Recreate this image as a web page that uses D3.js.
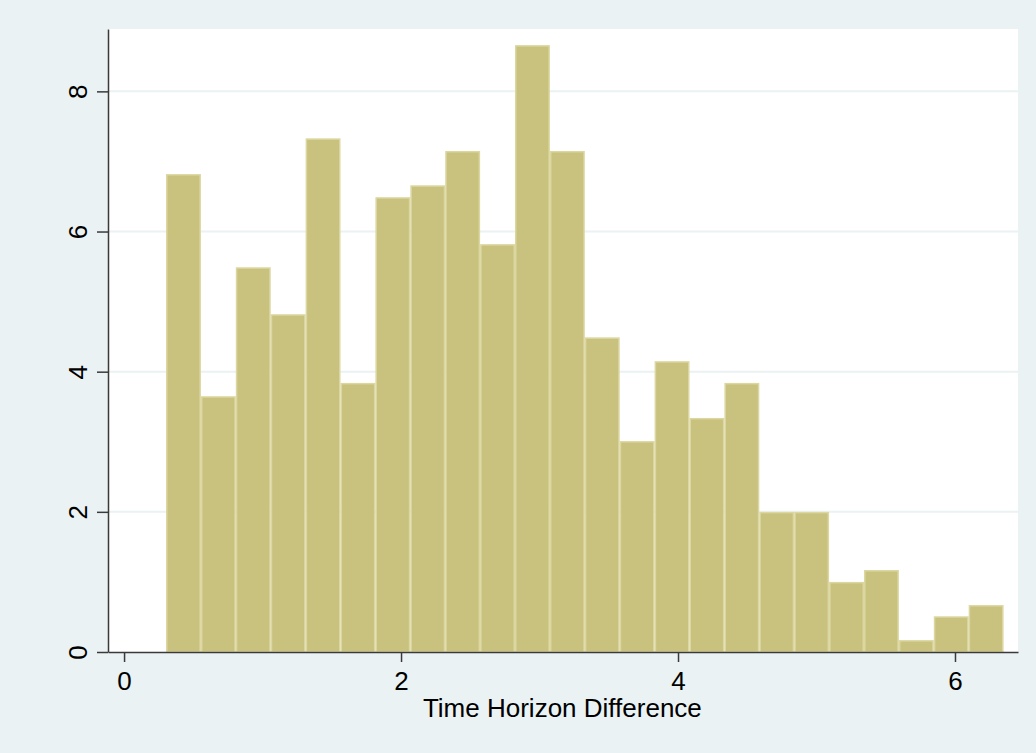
<!DOCTYPE html>
<html>
<head>
<meta charset="utf-8">
<script src="https://cdn.jsdelivr.net/npm/d3@7"></script>
<style>
  html, body { margin: 0; padding: 0; background: #eaf2f3; }
  svg { display: block; font-family: "Liberation Sans", Arial, sans-serif; }
</style>
</head>
<body>
<div id="chart"></div>
<script>
// Histogram bins (density)
const binStart = 0.303;
const binWidth = 0.252;
const densities = [6.82, 3.65, 5.49, 4.82, 7.33, 3.84, 6.49, 6.66, 7.15, 5.82, 8.66, 7.15,
                   4.49, 3.01, 4.15, 3.34, 3.84, 2.0, 2.0, 1.0, 1.17, 0.17, 0.51, 0.67];
const xTicks = [0, 2, 4, 6];
const yTicks = [0, 2, 4, 6, 8];
const xLabel = "Time Horizon Difference";

let width = 1036;
let height = 753;
let margins = { top: 29, right: 18, bottom: 101, left: 108 };

let svg = d3.select("#chart")
  .append("svg")
  .attr("width", width).attr("height", height);

svg.append("rect")
  .attr("width", width).attr("height", height)
  .attr("fill", "#eaf2f3");

let plotW = width - margins.left - margins.right;
let plotH = height - margins.top - margins.bottom;

let plot_g = svg.append("g")
  .attr("transform", "translate(" + margins.left + "," + margins.top + ")");

plot_g.append("rect")
  .attr("width", plotW).attr("height", plotH)
  .attr("fill", "white");

let xScale = d3.scaleLinear()
  .domain([-0.116, 6.455])
  .range([0, plotW]);

let yScale = d3.scaleLinear()
  .domain([0, 8.89])
  .range([plotH, 0]);

// Grid lines (not at zero)
plot_g.append("g")
  .selectAll("line")
  .data(yTicks.filter(d => d > 0))
  .enter()
  .append("line")
  .attr("x1", 0).attr("x2", plotW)
  .attr("y1", d => yScale(d)).attr("y2", d => yScale(d))
  .attr("stroke", "#eaf2f3")
  .attr("stroke-width", 2);

// Bars
let bins = densities.map((v, i) => ({ x0: binStart + i * binWidth, x1: binStart + (i + 1) * binWidth, v: v }));

plot_g.append("g")
  .selectAll("rect")
  .data(bins)
  .enter()
  .append("rect")
  .attr("x", d => xScale(d.x0) + 0.75)
  .attr("width", d => xScale(d.x1) - xScale(d.x0) - 1.5)
  .attr("y", d => yScale(d.v) + 0.75)
  .attr("height", d => yScale(0) - yScale(d.v) - 0.75)
  .attr("fill", "#c9c27f")
  .attr("stroke", "#dcd7a1")
  .attr("stroke-width", 1.5);

// X axis
let xAxis = plot_g.append("g")
  .attr("transform", "translate(0," + plotH + ")")
  .call(d3.axisBottom(xScale).tickValues(xTicks).tickSizeInner(10).tickSizeOuter(0)
    .tickPadding(10).tickFormat(d3.format("d")));

xAxis.select(".domain").attr("stroke", "#3a3a3a").attr("stroke-width", 1.5);
xAxis.selectAll(".tick line").attr("stroke", "#3a3a3a").attr("stroke-width", 1.5);
xAxis.selectAll(".tick text")
  .attr("font-size", 26)
  .attr("fill", "black")
  .attr("font-family", "Liberation Sans, Arial, sans-serif");

xAxis.append("text")
  .attr("x", xScale(3.165))
  .attr("y", 65)
  .attr("fill", "black")
  .attr("font-size", 26)
  .attr("text-anchor", "middle")
  .attr("font-family", "Liberation Sans, Arial, sans-serif")
  .text(xLabel);

// Y axis
let yAxis = plot_g.append("g")
  .call(d3.axisLeft(yScale).tickValues(yTicks).tickSizeInner(11).tickSizeOuter(0).tickFormat(d3.format("d")));

yAxis.select(".domain").attr("stroke", "#3a3a3a").attr("stroke-width", 1.5);
yAxis.selectAll(".tick line").attr("stroke", "#3a3a3a").attr("stroke-width", 1.5);
yAxis.selectAll(".tick text")
  .attr("x", null).attr("dy", null)
  .attr("transform", "translate(-21,0) rotate(-90)")
  .attr("text-anchor", "middle")
  .attr("font-size", 26)
  .attr("fill", "black")
  .attr("font-family", "Liberation Sans, Arial, sans-serif");
</script>
</body>
</html>
